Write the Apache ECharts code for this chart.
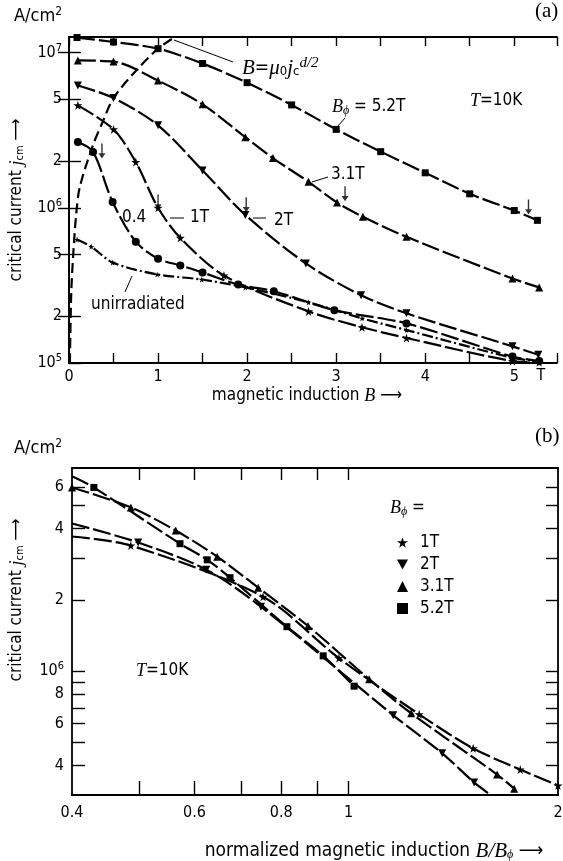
<!DOCTYPE html>
<html>
<head>
<meta charset="utf-8">
<title>critical current vs magnetic induction</title>
<script src="https://cdn.jsdelivr.net/npm/echarts@6/dist/echarts.min.js"></script>
<style>
  html, body { margin: 0; padding: 0; background: #fff; }
  #chart { width: 563px; height: 861px; }
</style>
</head>
<body>
<div id="chart"></div>
<script>
// (a) critical current vs B at T = 10 K, [B in T, j in A/cm2]
var a_52 = [[0.09,1.25e7],[0.5,1.17e7],[1.0,1.06e7],[1.5,8.5e6],[2.0,6.4e6],[2.5,4.6e6],[3.0,3.2e6],[3.5,2.3e6],[4.0,1.68e6],[4.5,1.23e6],[5.0,9.6e5],[5.26,8.3e5]];
var a_31 = [[0.1,8.9e6],[0.5,8.75e6],[1.0,6.6e6],[1.5,4.64e6],[1.98,2.85e6],[2.29,2.09e6],[2.69,1.47e6],[3.01,1.08e6],[3.3,8.75e5],[3.79,6.5e5],[4.98,3.5e5],[5.28,3.07e5]];
var a_2 = [[0.1,6.14e6],[0.5,5.1e6],[1.0,3.4e6],[1.5,1.74e6],[1.98,9.0e5],[2.66,4.38e5],[3.28,2.73e5],[3.79,2.09e5],[4.98,1.28e5],[5.27,1.13e5]];
var a_1 = [[0.1,4.57e6],[0.5,3.2e6],[0.75,1.97e6],[1.0,1.0e6],[1.25,6.4e5],[1.74,3.66e5],[2.69,2.15e5],[3.29,1.7e5],[3.79,1.45e5],[4.98,1.03e5],[5.28,1.01e5]];
var a_04 = [[0.1,2.65e6],[0.27,2.29e6],[0.49,1.09e6],[0.75,6.05e5],[1.0,4.7e5],[1.25,4.25e5],[1.5,3.83e5],[1.9,3.2e5],[2.3,2.9e5],[2.98,2.19e5],[3.79,1.8e5],[4.98,1.1e5],[5.28,1.03e5]];
var a_unirr = [[0.09,6.24e5],[0.25,5.62e5],[0.49,4.44e5],[0.99,3.72e5],[1.49,3.45e5],[1.98,3.07e5],[2.69,2.46e5],[3.29,1.94e5],[3.79,1.63e5],[4.98,1.08e5],[5.28,1.02e5]];
// dashed line B = mu0 jc d/2
var a_bline = [[0.01,1.0e5],[0.025,2.8e5],[0.05,5.3e5],[0.08,9.0e5],[0.12,1.35e6],[0.26,2.45e6],[0.38,3.6e6],[0.5,5.1e6],[0.74,7.5e6],[1.0,1.06e7],[1.19,1.26e7]];
// little arrows marking B_phi on each curve
var a_arrows = [[0.37,2.32e6],[1.0,1.09e6],[1.99,1.045e6],[3.1,1.23e6],[5.16,1.01e6]];

var a_yTicks = [1e5,2e5,5e5,1e6,2e6,5e6,1e7];

// (b) critical current vs B/B_phi, [B/B_phi, j in A/cm2]; third entry = line end without marker
var b_1 = [[0.4,3.7e6,0],[0.486,3.39e6],[0.753,2.06e6],[0.968,1.135e6],[1.263,6.57e5],[1.51,4.72e5],[1.765,3.84e5],[2.0,3.29e5]];
var b_2 = [[0.4,4.2e6,0],[0.498,3.49e6],[0.624,2.68e6],[0.748,1.87e6],[1.159,6.51e5],[1.363,4.5e5],[1.515,3.39e5],[1.6,3.0e5,0]];
var b_31 = [[0.4,5.96e6],[0.486,4.91e6],[0.564,3.92e6],[0.647,3.04e6],[0.741,2.25e6],[0.874,1.55e6],[1.07,9.25e5],[1.23,6.64e5],[1.635,3.66e5],[1.73,3.19e5]];
var b_52 = [[0.4,6.64e6,0],[0.43,5.96e6],[0.572,3.45e6],[0.626,2.95e6],[0.675,2.48e6],[0.815,1.54e6],[0.919,1.16e6],[1.018,8.64e5]];

var b_xLabels = [0.4,0.6,0.8,1,2];
var b_xTicks = [0.5,0.6,0.7,0.8,0.9,1];
var b_yLabels = [4e5,6e5,8e5,1e6,2e6,4e6,6e6];
var b_yTicks = [4e5,5e5,6e5,7e5,8e5,9e5,1e6,2e6,3e6,4e6,5e6,6e6];

var SANS = "'Liberation Sans Narrow', 'DejaVu Sans Condensed', 'Liberation Sans', sans-serif";
var SERIF = "'Liberation Serif', 'DejaVu Serif', serif";
var STAR = 'path://M50,0 L61,35 L98,35 L68,57 L79,91 L50,70 L21,91 L32,57 L2,35 L39,35 Z';
var TRI_DN = 'path://M0,0 L10,0 L5,9 Z';
var ARROW = 'path://M4.4,0 L5.6,0 L5.6,11 L8,11 L5,17 L2,11 L4.4,11 Z';

var rich = {
    n: { fontSize: 16, fontFamily: SANS, color: '#000' },
    s: { fontSize: 11, fontFamily: SANS, color: '#000', padding: [0, 0, 9, 0] },
    i: { fontSize: 18, fontFamily: SERIF, fontStyle: 'italic', color: '#000' },
    I: { fontSize: 21, fontFamily: SERIF, fontStyle: 'italic', color: '#000' },
    b: { fontSize: 11, fontFamily: SANS, color: '#000', padding: [7, 0, 0, 0] },
    B: { fontSize: 13, fontFamily: SANS, color: '#000', padding: [8, 0, 0, 0] },
    bi: { fontSize: 12, fontFamily: SERIF, fontStyle: 'italic', color: '#000', padding: [7, 0, 0, 0] },
    si: { fontSize: 15, fontFamily: SERIF, fontStyle: 'italic', color: '#000', padding: [0, 0, 10, 0] },
    t: { fontSize: 17, fontFamily: SANS, color: '#000' },
    T: { fontSize: 19, fontFamily: SANS, color: '#000' },
    u: { fontSize: 18, fontFamily: SANS, color: '#000' },
    us: { fontSize: 12, fontFamily: SANS, color: '#000', padding: [0, 0, 9, 0] }
};

function logLabel(v) {
    var e = Math.log10(v);
    if (Math.abs(e - Math.round(e)) < 1e-6) return '{n|10}{s|' + Math.round(e) + '}';
    return '{n|' + Math.round(v / Math.pow(10, Math.floor(e + 1e-9))) + '}';
}

function pts(arr) {
    return arr.map(function (p) {
        if (p.length > 2) return { value: [p[0], p[1]], symbol: 'none' };
        return [p[0], p[1]];
    });
}

function curve(name, data, symbol, size, xi, yi, dash) {
    return {
        name: name, type: 'line', xAxisIndex: xi, yAxisIndex: yi,
        data: pts(data), smooth: 0.3, symbol: symbol, symbolSize: size,
        showAllSymbol: true, clip: true,
        itemStyle: { color: '#000' },
        lineStyle: { width: 2.2, color: '#000', type: dash || [18, 4] },
        z: 3
    };
}

var axisLine = { show: true, lineStyle: { color: '#000', width: 1.8 } };
var tickStyle = { color: '#000', width: 1.4 };
var tickFont = { fontSize: 16, fontFamily: SANS, color: '#000' };

var chart = echarts.init(document.getElementById('chart'));
chart.setOption({
    animation: false,
    backgroundColor: '#fff',
    grid: [
        { left: 69, top: 37, right: 6, bottom: 498, outerBoundsMode: 'none' },
        { left: 72, top: 468, right: 5, bottom: 66, outerBoundsMode: 'none' }
    ],
    xAxis: [
        { type: 'value', gridIndex: 0, min: 0, max: 5.48, interval: 0.5, position: 'bottom',
          axisLine: axisLine, splitLine: { show: false },
          axisTick: { inside: true, length: 10, lineStyle: tickStyle },
          axisLabel: Object.assign({ margin: 6,
                       formatter: function (v) { return Math.abs(v - Math.round(v)) < 1e-6 ? String(Math.round(v)) : ''; } }, tickFont) },
        { type: 'value', gridIndex: 0, min: 0, max: 5.48, interval: 0.5, position: 'top',
          axisLine: axisLine, splitLine: { show: false }, axisLabel: { show: false },
          axisTick: { inside: true, length: 9, lineStyle: tickStyle } },
        { type: 'log', gridIndex: 1, min: 0.4, max: 2, position: 'bottom',
          axisLine: axisLine, splitLine: { show: false },
          axisTick: { inside: true, length: 14, customValues: b_xTicks, lineStyle: tickStyle },
          axisLabel: Object.assign({ margin: 10, customValues: b_xLabels,
                       formatter: function (v) { return String(+v.toFixed(1)); } }, tickFont) },
        { type: 'log', gridIndex: 1, min: 0.4, max: 2, position: 'top',
          axisLine: axisLine, splitLine: { show: false }, axisLabel: { show: false },
          axisTick: { inside: true, length: 12, customValues: b_xTicks, lineStyle: tickStyle } }
    ],
    yAxis: [
        { type: 'log', gridIndex: 0, min: 1e5, max: 1.26e7, position: 'left',
          axisLine: axisLine, splitLine: { show: false },
          axisTick: { inside: true, length: 12, customValues: a_yTicks, lineStyle: tickStyle },
          axisLabel: { margin: 7, customValues: a_yTicks, formatter: logLabel, rich: rich } },
        { type: 'log', gridIndex: 0, min: 1e5, max: 1.26e7, position: 'right',
          axisLine: axisLine, splitLine: { show: false }, axisLabel: { show: false },
          axisTick: { inside: true, length: 11, customValues: a_yTicks.slice(1), lineStyle: tickStyle } },
        { type: 'log', gridIndex: 1, min: 3e5, max: 7.2e6, position: 'left',
          axisLine: axisLine, splitLine: { show: false },
          axisTick: { inside: true, length: 13, customValues: b_yTicks, lineStyle: tickStyle },
          axisLabel: { margin: 8, customValues: b_yLabels, formatter: logLabel, rich: rich } },
        { type: 'log', gridIndex: 1, min: 3e5, max: 7.2e6, position: 'right',
          axisLine: axisLine, splitLine: { show: false }, axisLabel: { show: false },
          axisTick: { inside: true, length: 12, customValues: b_yTicks, lineStyle: tickStyle } }
    ],
    legend: {
        data: [{ name: '1T', icon: STAR }, { name: '2T', icon: TRI_DN }, { name: '3.1T', icon: 'triangle' }, { name: '5.2T', icon: 'rect' }],
        orient: 'vertical', left: 392, top: 529, itemWidth: 11, itemHeight: 11, itemGap: 5,
        selectedMode: false,
        textStyle: { fontSize: 17, fontFamily: SANS, color: '#000', padding: [0, 0, 0, 7] }
    },
    series: [
        curve('Bphi 5.2T', a_52, 'rect', 7, 0, 0),
        curve('Bphi 3.1T', a_31, 'triangle', 8, 0, 0),
        curve('Bphi 2T', a_2, TRI_DN, 8, 0, 0),
        curve('Bphi 1T', a_1, STAR, 9, 0, 0),
        curve('Bphi 0.4T', a_04, 'circle', 8, 0, 0),
        curve('unirradiated', a_unirr, STAR, 6, 0, 0, [11, 3, 2, 3]),
        { name: 'B = mu0 jc d/2', type: 'line', xAxisIndex: 0, yAxisIndex: 0, data: a_bline,
          smooth: 0.3, symbol: 'none', lineStyle: { width: 2.2, color: '#000', type: [10, 5] }, z: 2 },
        { name: 'Bphi marks', type: 'scatter', xAxisIndex: 0, yAxisIndex: 0, data: a_arrows,
          symbol: ARROW, symbolSize: [7, 15], itemStyle: { color: '#000' }, z: 4 },
        curve('1T', b_1, STAR, 9, 2, 2),
        curve('2T', b_2, TRI_DN, 8, 2, 2),
        curve('3.1T', b_31, 'triangle', 8, 2, 2),
        curve('5.2T', b_52, 'rect', 7, 2, 2)
    ],
    graphic: [
        { type: 'text', left: 535, top: 1, style: { text: '(a)', font: '21px ' + SERIF, fill: '#000' } },
        { type: 'text', left: 535, top: 426, style: { text: '(b)', font: '21px ' + SERIF, fill: '#000' } },
        { type: 'text', x: 14, y: 16, style: { text: '{u|A/cm}{us|2}', rich: rich, verticalAlign: 'middle' } },
        { type: 'text', x: 14, y: 448, style: { text: '{u|A/cm}{us|2}', rich: rich, verticalAlign: 'middle' } },
        { type: 'text', x: 541, y: 376, style: { text: 'T', font: '16px ' + SANS, fill: '#000', align: 'center', verticalAlign: 'middle' } },
        // axis titles
        { type: 'text', x: 17, y: 200, rotation: Math.PI / 2,
          style: { text: '{t|critical current }{i|j}{b|cm}{t| ⟶}', rich: rich, align: 'center', verticalAlign: 'middle' } },
        { type: 'text', x: 17, y: 600, rotation: Math.PI / 2,
          style: { text: '{t|critical current }{i|j}{b|cm}{t| ⟶}', rich: rich, align: 'center', verticalAlign: 'middle' } },
        { type: 'text', x: 307, y: 396,
          style: { text: '{t|magnetic induction }{i|B}{t| ⟶}', rich: rich, align: 'center', verticalAlign: 'middle' } },
        { type: 'text', x: 374, y: 851,
          style: { text: '{T|normalized magnetic induction }{I|B/B}{bi|ϕ}{T| ⟶}', rich: rich, align: 'center', verticalAlign: 'middle' } },
        // annotations panel (a)
        { type: 'text', x: 242, y: 68,
          style: { text: '{I|B}{T|=}{I|μ}{B|0}{I|j}{B|c}{si|d/2}', rich: rich, verticalAlign: 'middle' } },
        { type: 'line', shape: { x1: 233, y1: 62, x2: 174, y2: 40 }, style: { stroke: '#000', lineWidth: 1 } },
        { type: 'text', x: 332, y: 107,
          style: { text: '{i|B}{bi|ϕ}{t| = 5.2T}', rich: rich, verticalAlign: 'middle' } },
        { type: 'line', shape: { x1: 337, y1: 127, x2: 345, y2: 118 }, style: { stroke: '#000', lineWidth: 1 } },
        { type: 'text', x: 470, y: 101,
          style: { text: '{i|T}{t|=10K}', rich: rich, verticalAlign: 'middle' } },
        { type: 'text', x: 331, y: 175, style: { text: '3.1T', font: '17px ' + SANS, fill: '#000', verticalAlign: 'middle' } },
        { type: 'line', shape: { x1: 312, y1: 182, x2: 328, y2: 177 }, style: { stroke: '#000', lineWidth: 1 } },
        { type: 'text', x: 274, y: 221, style: { text: '2T', font: '17px ' + SANS, fill: '#000', verticalAlign: 'middle' } },
        { type: 'line', shape: { x1: 253, y1: 218, x2: 266, y2: 218 }, style: { stroke: '#000', lineWidth: 1 } },
        { type: 'text', x: 190, y: 218, style: { text: '1T', font: '17px ' + SANS, fill: '#000', verticalAlign: 'middle' } },
        { type: 'line', shape: { x1: 170, y1: 218, x2: 184, y2: 218 }, style: { stroke: '#000', lineWidth: 1 } },
        { type: 'text', x: 122, y: 218, style: { text: '0.4', font: '17px ' + SANS, fill: '#000', verticalAlign: 'middle' } },
        { type: 'text', x: 91, y: 305, style: { text: 'unirradiated', font: '17px ' + SANS, fill: '#000', verticalAlign: 'middle' } },
        { type: 'line', shape: { x1: 125, y1: 292, x2: 132, y2: 276 }, style: { stroke: '#000', lineWidth: 1 } },
        // annotations panel (b)
        { type: 'text', x: 136, y: 671,
          style: { text: '{i|T}{t|=10K}', rich: rich, verticalAlign: 'middle' } },
        { type: 'text', x: 390, y: 508,
          style: { text: '{i|B}{bi|ϕ}{t| =}', rich: rich, verticalAlign: 'middle' } }
    ]
});
</script>
</body>
</html>
